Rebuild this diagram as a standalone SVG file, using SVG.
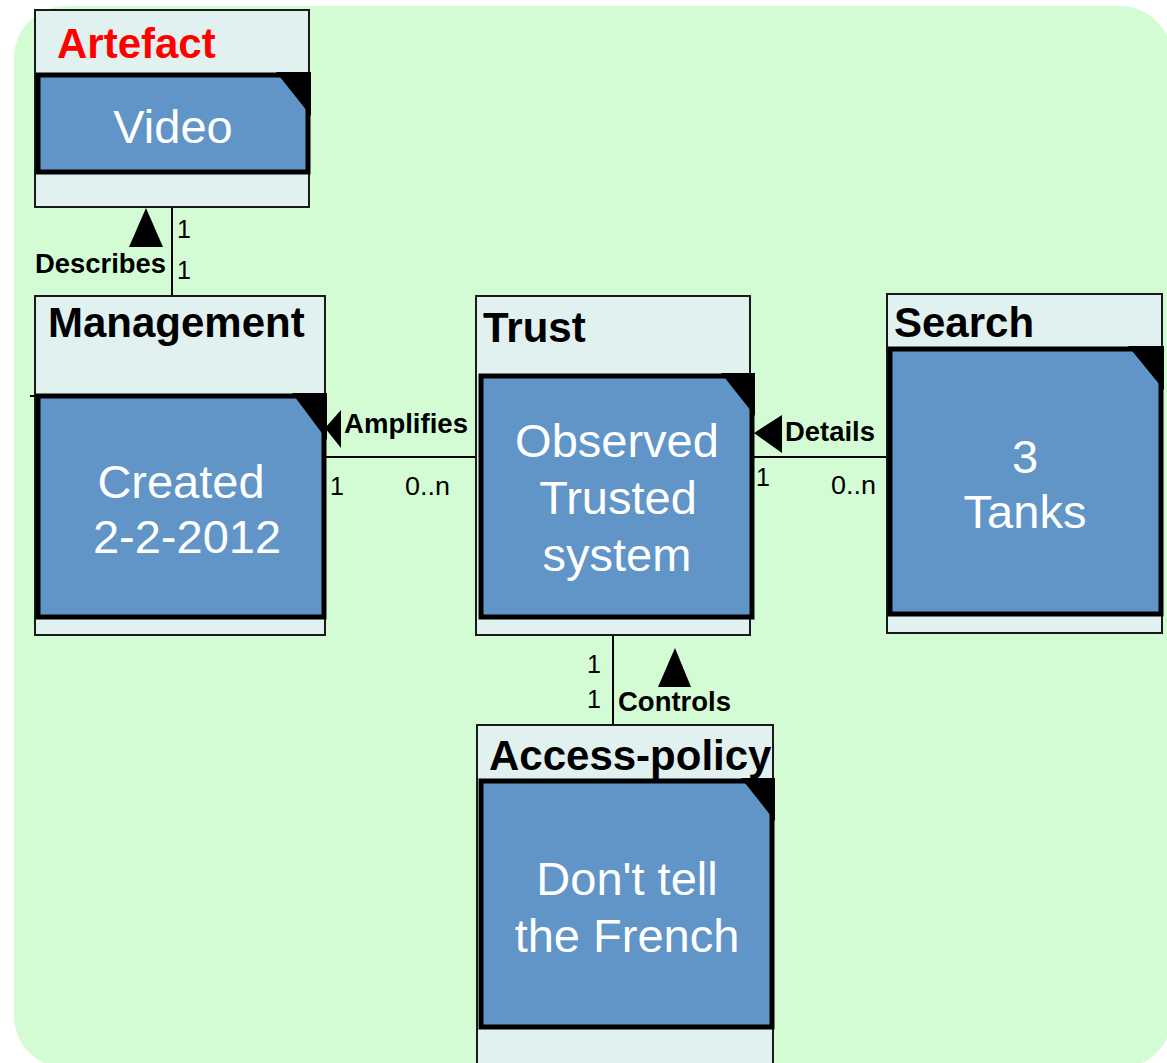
<svg xmlns="http://www.w3.org/2000/svg" width="1167" height="1063" viewBox="0 0 1167 1063">
<style>
.outer{fill:#E1F1F0;stroke:#1a1a1a;stroke-width:2}
.inner{fill:#6195C8;stroke:#000;stroke-width:5}
.fold{fill:#000}
.hdr{font-family:"Liberation Sans",Arial,sans-serif;font-weight:bold;font-size:42px;fill:#000}
.body{font-family:"Liberation Sans",Arial,sans-serif;font-size:47px;fill:#fff;text-anchor:middle}
.lbl{font-family:"Liberation Sans",Arial,sans-serif;font-weight:bold;font-size:27px;fill:#000}
.mul{font-family:"Liberation Sans",Arial,sans-serif;font-size:25px;fill:#000}
.ln{stroke:#000;stroke-width:2;fill:none}
.arr{fill:#000}
</style>
<rect x="14" y="6" width="1158" height="1062" rx="52" ry="52" fill="#D4FCD4"/>

<g id="connectors">
<line class="ln" x1="172" y1="207" x2="172" y2="296"/>
<polygon class="arr" points="146,208 129,247 163,247"/>
<text class="lbl" x="35" y="273" textLength="131" lengthAdjust="spacingAndGlyphs">Describes</text>
<text class="mul" x="177" y="238">1</text>
<text class="mul" x="177" y="279">1</text>

<line class="ln" x1="326" y1="457" x2="477" y2="457"/>
<polygon class="arr" points="325,428 341,410 341,448"/>
<text class="lbl" x="344" y="433" textLength="124" lengthAdjust="spacingAndGlyphs">Amplifies</text>
<text class="mul" x="330" y="495">1</text>
<text class="mul" x="405" y="495" textLength="45" lengthAdjust="spacingAndGlyphs">0..n</text>

<line class="ln" x1="754" y1="457" x2="887" y2="457"/>
<polygon class="arr" points="754,433 782,415 782,453"/>
<text class="lbl" x="785" y="441" textLength="90" lengthAdjust="spacingAndGlyphs">Details</text>
<text class="mul" x="756" y="486">1</text>
<text class="mul" x="831" y="494" textLength="45" lengthAdjust="spacingAndGlyphs">0..n</text>

<line class="ln" x1="613" y1="635" x2="613" y2="725"/>
<polygon class="arr" points="675,648 658,687 691,687"/>
<text class="lbl" x="618" y="711" textLength="113" lengthAdjust="spacingAndGlyphs">Controls</text>
<text class="mul" x="587" y="673">1</text>
<text class="mul" x="587" y="708">1</text>
</g>

<g id="artefact">
<rect class="outer" x="35" y="10" width="274" height="197"/>
<text class="hdr" x="57" y="58" style="fill:#FF0000">Artefact</text>
<rect class="inner" x="38" y="75" width="270" height="97"/>
<polygon class="fold" points="276,72 311,72 311,116"/>
<text class="body" x="173" y="143">Video</text>
</g>

<g id="management">
<rect class="outer" x="35" y="296" width="290" height="339"/>
<text class="hdr" x="48" y="337">Management</text>
<line class="ln" x1="30" y1="396" x2="38" y2="396"/>
<rect class="inner" x="38" y="396" width="286" height="221"/>
<polygon class="fold" points="292,393 327,393 327,440"/>
<text class="body" x="181" y="498">Created</text>
<text class="body" x="187" y="553">2-2-2012</text>
</g>

<g id="trust">
<rect class="outer" x="476" y="296" width="274" height="339"/>
<text class="hdr" x="483" y="342">Trust</text>
<rect class="inner" x="481" y="376" width="271" height="241"/>
<polygon class="fold" points="721,373 755,373 755,416"/>
<text class="body" x="617" y="457">Observed</text>
<text class="body" x="618" y="514">Trusted</text>
<text class="body" x="617" y="571">system</text>
</g>

<g id="search">
<rect class="outer" x="887" y="294" width="275" height="339"/>
<text class="hdr" x="894" y="337">Search</text>
<rect class="inner" x="890" y="349" width="271" height="265"/>
<polygon class="fold" points="1128,346 1164,346 1164,390"/>
<text class="body" x="1025" y="473">3</text>
<text class="body" x="1025" y="528">Tanks</text>
</g>

<g id="access-policy">
<rect class="outer" x="477" y="725" width="296" height="350"/>
<rect class="inner" x="481" y="781" width="291" height="246"/>
<polygon class="fold" points="741,778 775,778 775,821"/>
<text class="hdr" x="489" y="770">Access-policy</text>
<text class="body" x="627" y="895">Don't tell</text>
<text class="body" x="627" y="952">the French</text>
</g>
</svg>
